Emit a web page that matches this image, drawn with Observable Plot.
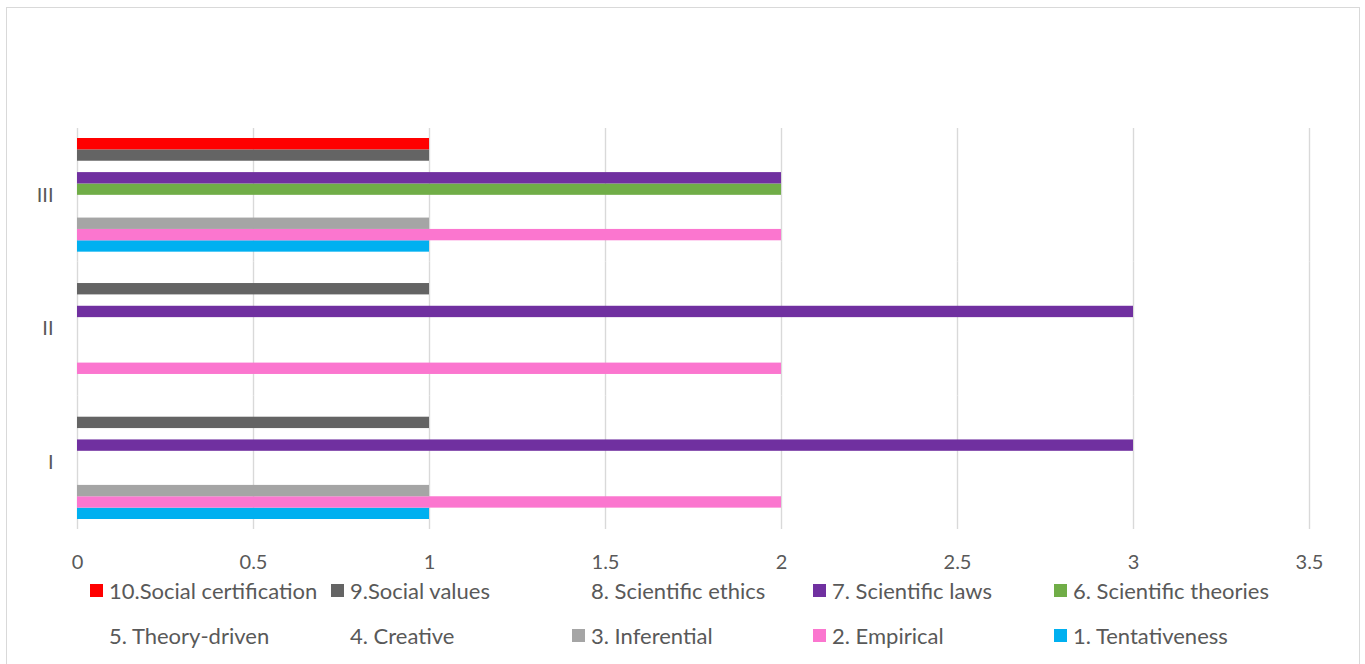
<!DOCTYPE html>
<html>
<head>
<meta charset="utf-8">
<script src="https://cdn.jsdelivr.net/npm/d3@7"></script>
<script src="https://cdn.jsdelivr.net/npm/@observablehq/plot@0.6"></script>
<style>
  html, body { margin: 0; padding: 0; background: #fff; }
  #wrap { position: relative; width: 1365px; height: 664px; overflow: hidden; font-family: Lato, "Open Sans", sans-serif; }
  #frame { position: absolute; left: 6px; top: 7px; width: 1354px; height: 700px; border: 1.5px solid #d9d9d9; box-sizing: border-box; }
  #chart { position: absolute; left: 0; top: 0; }
  #legend { position: absolute; left: 90px; top: 577px; display: grid; grid-template-columns: repeat(5, 241px); grid-auto-rows: 45px; }
  .item { display: flex; align-items: center; height: 26px; font-size: 22px; color: #595959; white-space: nowrap; }
  .sw { width: 13px; height: 13px; margin-right: 6px; flex: none; }
</style>
</head>
<body>
<div id="wrap">
  <div id="frame"></div>
  <div id="chart"></div>
  <div id="legend"></div>
</div>
<script>
const groups = ["III", "II", "I"];
const series = ["1. Tentativeness", "2. Empirical", "3. Inferential", "4. Creative", "5. Theory-driven",
                "6. Scientific theories", "7. Scientific laws", "8. Scientific ethics", "9.Social values", "10.Social certification"];
const valuesI   = [1, 2, 1, 0, 0, 0, 3, 0, 1, 0];
const valuesII  = [0, 2, 0, 0, 0, 0, 3, 0, 1, 0];
const valuesIII = [1, 2, 1, 0, 0, 2, 2, 0, 1, 1];
const colors = ["#00b0f0", "#fb76cf", "#a5a5a5", "none", "none", "#70ad47", "#7030a0", "none", "#646464", "#ff0000"];
const xTicks = [0, 0.5, 1, 1.5, 2, 2.5, 3, 3.5];
const legendOrder = [9, 8, 7, 6, 5, 4, 3, 2, 1, 0];

const byGroup = {I: valuesI, II: valuesII, III: valuesIII};
const data = [];
for (const g of groups) {
  series.forEach((s, i) => data.push({group: g, series: s, value: byGroup[g][i]}));
}

const chart = Plot.plot({
  width: 1365,
  height: 576,
  marginLeft: 77,
  marginRight: 56,
  marginTop: 128,
  marginBottom: 47,
  style: {fontFamily: "Lato, 'Open Sans', sans-serif", fontSize: "20px", color: "#595959", background: "transparent"},
  facet: {data, y: "group"},
  fy: {domain: groups, padding: 0, round: false, label: null, axis: "left", tickSize: 0, tickPadding: 24},
  y: {domain: series.slice().reverse(), paddingInner: 0, paddingOuter: 0.88, round: false, axis: null},
  x: {domain: [0, 3.5], ticks: xTicks, tickFormat: d => String(d), tickSize: 0, tickPadding: 25, label: null, line: false},
  color: {domain: series, range: colors},
  marks: [
    Plot.ruleX(xTicks, {stroke: "#d9d9d9", strokeWidth: 1.4}),
    Plot.barX(data, {x: "value", y: "series", fill: "series", inset: 0})
  ]
});
document.getElementById("chart").appendChild(chart);

const legend = document.getElementById("legend");
for (const i of legendOrder) {
  const item = document.createElement("div");
  item.className = "item";
  const sw = document.createElement("span");
  sw.className = "sw";
  sw.style.background = colors[i] === "none" ? "transparent" : colors[i];
  const label = document.createElement("span");
  label.textContent = series[i];
  item.appendChild(sw);
  item.appendChild(label);
  legend.appendChild(item);
}
</script>
</body>
</html>
